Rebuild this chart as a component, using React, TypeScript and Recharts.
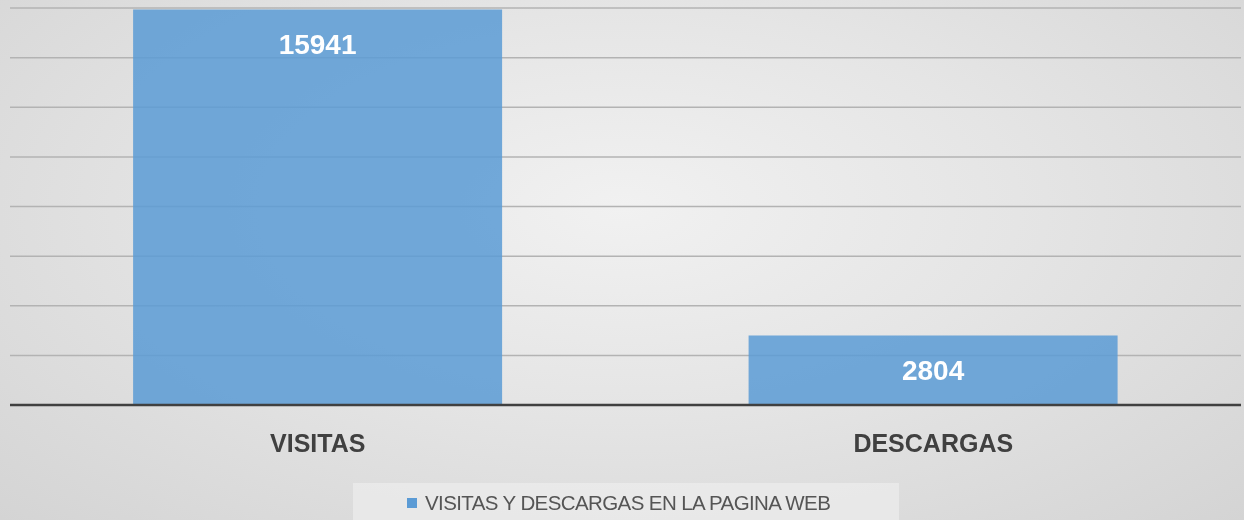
import React from "react";
import {
  BarChart,
  Bar,
  XAxis,
  YAxis,
  CartesianGrid,
  LabelList,
} from "recharts";

const categories = ["VISITAS", "DESCARGAS"];
const seriesValues = [15941, 2804];
const seriesName = "VISITAS Y DESCARGAS EN LA PAGINA WEB";
const yTicks = [0, 2000, 4000, 6000, 8000, 10000, 12000, 14000, 16000];

const chartData = categories.map((name, i) => ({ name, value: seriesValues[i] }));

const BAR_COLOR = "#5b9bd5";

export default function App() {
  return (
    <div
      style={{
        position: "fixed",
        left: 0,
        top: 0,
        width: 1244,
        height: 520,
        overflow: "hidden",
        background:
          "radial-gradient(ellipse at 50% 40%, #f1f1f1 0%, #e5e5e5 45%, #d4d4d4 100%)",
        fontFamily: "'Liberation Sans', Arial, sans-serif",
      }}
    >
      <BarChart
        width={1244}
        height={520}
        data={chartData}
        margin={{ top: 8, right: 3, left: 10, bottom: 0 }}
        barCategoryGap="20%"
      >
        <CartesianGrid vertical={false} stroke="#b3b3b3" strokeWidth={1.5} />
        <YAxis hide domain={[0, 16000]} ticks={yTicks} />
        <XAxis
          dataKey="name"
          height={115}
          axisLine={{ stroke: "#404040", strokeWidth: 2.5 }}
          tickLine={false}
          tickMargin={23}
          tick={{ fill: "#404040", fontSize: 25, fontWeight: "bold" }}
        />
        <Bar
          dataKey="value"
          name={seriesName}
          fill={BAR_COLOR}
          fillOpacity={0.85}
          isAnimationActive={false}
        >
          <LabelList
            dataKey="value"
            position="insideTop"
            offset={25}
            fill="#ffffff"
            fontSize={28}
            fontWeight="bold"
          />
        </Bar>
      </BarChart>
      <div
        style={{
          position: "absolute",
          left: 353,
          top: 483,
          width: 546,
          height: 40,
          boxSizing: "border-box",
          paddingLeft: 54,
          background: "rgba(240,240,240,0.6)",
          display: "flex",
          alignItems: "center",
          color: "#555555",
          fontSize: 20.5,
          fontFamily: "'Liberation Sans Narrow', 'Liberation Sans', Arial, sans-serif",
          letterSpacing: -0.6,
        }}
      >
        <span
          style={{
            display: "inline-block",
            width: 10,
            height: 10,
            background: BAR_COLOR,
            marginRight: 8,
          }}
        />
        <span>{seriesName}</span>
      </div>
    </div>
  );
}
